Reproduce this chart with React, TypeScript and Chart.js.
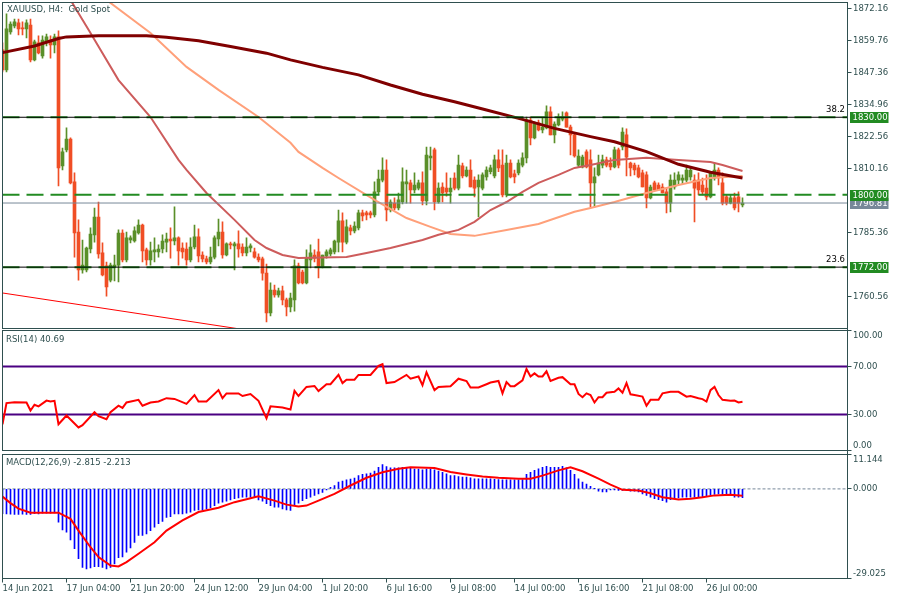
import { useEffect, useRef } from "react";
import { Chart, registerables } from "chart.js";

Chart.register(...registerables);

// ---------------- style constants ----------------
const FONT_FAMILY = '"DejaVu Sans", "Noto Sans", sans-serif';
const FONT_SIZE = 8.5;
const AXIS_COLOR = "#2f4f4f";
const UP_COLOR = "#5a8f29";
const DOWN_COLOR = "#f04e25";
const LEVEL_GREEN = "#228b22";
const PRICE_GRAY = "#778899";
const MA_SLOW_COLOR = "#800000";
const MA_MID_COLOR = "#cd5c5c";
const MA_FAST_COLOR = "#ffa07a";
const TREND_COLOR = "#ff0000";
const RSI_COLOR = "#ff0000";
const RSI_LEVEL_COLOR = "#4b0082";
const MACD_HIST_COLOR = "#0000ff";
const MACD_SIGNAL_COLOR = "#ff0000";

// ---------------- data ----------------
const opens = [
  1856.1, 1848.3, 1863.0, 1865.3, 1866.5, 1864.6, 1864.2, 1865.7, 1852.2, 1858.8,
  1853.7, 1859.2, 1859.9, 1858.0, 1861.1, 1811.2, 1817.4, 1821.6, 1805.0, 1785.6,
  1770.9, 1770.9, 1779.0, 1784.5, 1791.4, 1777.5, 1772.5, 1767.0, 1772.1, 1772.8,
  1785.2, 1774.8, 1782.5, 1782.1, 1785.2, 1788.3, 1778.7, 1774.8, 1777.9, 1777.9,
  1779.0, 1781.7, 1782.9, 1782.1, 1783.3, 1779.4, 1779.0, 1774.8, 1779.8, 1783.7,
  1776.7, 1775.2, 1774.0, 1775.9, 1782.9, 1785.6, 1776.7, 1781.0, 1780.2, 1781.0,
  1779.8, 1777.5, 1779.4, 1777.9, 1775.9, 1775.2, 1769.7, 1754.3, 1763.1, 1761.2,
  1762.8, 1759.3, 1756.6, 1759.3, 1772.5, 1770.1, 1765.9, 1774.8, 1776.7, 1777.9,
  1772.1, 1776.3, 1777.1, 1777.9, 1781.7, 1789.9, 1781.7, 1787.2, 1786.0, 1787.2,
  1793.0, 1793.0, 1793.0, 1792.2, 1801.1, 1805.7, 1809.6, 1794.1, 1796.8, 1794.9,
  1797.2, 1804.2, 1804.6, 1801.9, 1802.6, 1804.6, 1797.6, 1814.3, 1817.4, 1797.2,
  1803.0, 1802.6, 1801.1, 1806.5, 1802.6, 1811.2, 1807.3, 1809.6, 1805.7, 1803.0,
  1802.6, 1806.9, 1808.9, 1807.3, 1813.5, 1811.5, 1799.9, 1812.3, 1808.1, 1808.5,
  1811.5, 1814.3, 1828.9, 1822.0, 1827.8, 1825.1, 1825.9, 1832.1, 1823.2, 1827.0,
  1829.3, 1831.7, 1826.2, 1823.2, 1811.5, 1810.8, 1816.6, 1813.5, 1804.6, 1807.7,
  1811.5, 1813.5, 1812.3, 1810.8, 1817.4, 1818.5, 1823.2, 1812.3, 1811.5, 1810.4,
  1808.5, 1807.7, 1798.8, 1804.6, 1803.8, 1803.0, 1801.1, 1796.8, 1803.0, 1805.7,
  1805.7, 1805.7, 1806.9, 1805.7, 1805.7, 1803.8, 1802.6, 1799.2, 1806.5, 1809.6,
  1804.6, 1799.2, 1796.8, 1798.8, 1799.2, 1796.1,
];

const highs = [
  1858.8, 1870.0, 1866.9, 1868.0, 1868.0, 1866.9, 1867.7, 1868.0, 1859.9, 1861.5,
  1861.5, 1862.2, 1861.5, 1862.2, 1863.4, 1818.1, 1825.9, 1822.0, 1808.5, 1790.3,
  1782.5, 1779.8, 1787.2, 1794.9, 1797.2, 1781.4, 1774.0, 1773.6, 1776.7, 1786.4,
  1786.4, 1785.6, 1784.1, 1787.6, 1790.3, 1788.7, 1779.4, 1781.7, 1783.3, 1780.6,
  1784.5, 1785.2, 1787.2, 1795.3, 1783.7, 1781.4, 1781.4, 1783.3, 1788.3, 1786.8,
  1777.9, 1776.3, 1779.8, 1784.1, 1790.6, 1789.5, 1781.4, 1781.7, 1781.7, 1786.0,
  1781.0, 1783.3, 1781.0, 1779.4, 1777.1, 1775.9, 1773.2, 1765.9, 1765.1, 1763.9,
  1764.7, 1760.0, 1762.0, 1774.8, 1773.6, 1770.9, 1778.7, 1780.6, 1778.7, 1782.9,
  1776.7, 1778.7, 1779.4, 1782.5, 1794.1, 1793.0, 1790.3, 1788.3, 1789.5, 1794.1,
  1794.1, 1793.7, 1793.7, 1805.0, 1809.6, 1814.3, 1813.5, 1798.0, 1798.8, 1800.7,
  1810.4, 1809.6, 1805.7, 1808.5, 1805.7, 1808.9, 1818.5, 1818.5, 1818.1, 1804.6,
  1804.6, 1808.5, 1806.5, 1808.5, 1815.4, 1812.3, 1810.8, 1813.5, 1806.9, 1807.7,
  1808.5, 1810.8, 1811.5, 1815.4, 1817.4, 1817.4, 1815.4, 1813.5, 1809.6, 1813.5,
  1816.2, 1830.1, 1830.1, 1828.2, 1828.9, 1829.7, 1834.4, 1834.0, 1828.2, 1831.3,
  1832.1, 1832.1, 1827.0, 1823.9, 1817.4, 1815.4, 1817.4, 1817.4, 1810.4, 1815.4,
  1815.4, 1814.6, 1814.3, 1818.5, 1818.1, 1825.9, 1825.5, 1812.7, 1812.3, 1811.5,
  1809.6, 1808.9, 1803.8, 1805.3, 1804.6, 1804.2, 1802.6, 1807.7, 1808.5, 1808.9,
  1807.7, 1811.5, 1810.4, 1807.7, 1808.5, 1806.5, 1807.7, 1808.9, 1812.3, 1810.4,
  1808.5, 1799.9, 1799.9, 1800.7, 1801.1, 1798.8,
];

const lows = [
  1847.5, 1847.5, 1862.2, 1864.6, 1861.9, 1861.9, 1860.7, 1851.4, 1851.8, 1854.5,
  1852.9, 1857.6, 1852.9, 1854.9, 1803.4, 1809.6, 1816.6, 1804.2, 1775.9, 1767.0,
  1769.7, 1770.1, 1777.5, 1781.7, 1775.5, 1768.6, 1760.8, 1766.3, 1766.7, 1766.3,
  1774.0, 1774.0, 1781.4, 1781.7, 1784.8, 1774.0, 1772.8, 1772.8, 1774.0, 1775.9,
  1777.5, 1777.9, 1775.5, 1780.6, 1772.8, 1775.5, 1772.8, 1774.0, 1779.0, 1774.0,
  1774.0, 1773.2, 1773.2, 1775.2, 1780.2, 1775.5, 1776.3, 1779.0, 1770.9, 1775.9,
  1776.3, 1776.3, 1777.9, 1775.5, 1774.0, 1767.0, 1750.8, 1753.1, 1760.4, 1760.4,
  1757.4, 1753.1, 1754.7, 1755.0, 1765.5, 1765.5, 1765.5, 1771.7, 1774.0, 1767.8,
  1771.7, 1775.5, 1776.3, 1777.1, 1777.9, 1777.9, 1781.0, 1784.5, 1785.2, 1786.4,
  1789.9, 1790.3, 1791.0, 1791.4, 1800.3, 1805.0, 1789.9, 1793.4, 1794.1, 1794.1,
  1796.5, 1796.8, 1796.8, 1800.7, 1801.9, 1796.1, 1796.1, 1809.6, 1794.1, 1796.8,
  1797.2, 1799.5, 1796.8, 1801.9, 1801.9, 1806.5, 1806.9, 1803.0, 1799.2, 1791.4,
  1801.9, 1805.7, 1808.1, 1806.5, 1808.9, 1799.2, 1799.2, 1806.5, 1804.6, 1807.7,
  1810.8, 1812.3, 1819.3, 1821.6, 1824.7, 1823.9, 1825.5, 1823.2, 1820.1, 1826.6,
  1828.6, 1826.2, 1815.4, 1814.6, 1810.8, 1810.4, 1810.4, 1795.3, 1795.3, 1807.3,
  1810.4, 1810.8, 1809.6, 1810.4, 1810.4, 1817.4, 1807.3, 1807.3, 1807.7, 1806.5,
  1803.0, 1794.9, 1798.4, 1801.9, 1801.9, 1800.7, 1793.0, 1793.4, 1802.2, 1803.8,
  1804.2, 1805.0, 1805.7, 1789.5, 1799.9, 1799.9, 1798.0, 1798.8, 1805.7, 1803.8,
  1796.1, 1796.1, 1796.5, 1794.1, 1793.4, 1795.3,
];

const closes = [
  1848.3, 1864.2, 1866.1, 1866.9, 1864.2, 1864.2, 1866.5, 1852.2, 1859.2, 1854.9,
  1859.9, 1861.1, 1858.0, 1861.1, 1810.4, 1816.6, 1821.6, 1804.6, 1785.2, 1770.9,
  1772.8, 1779.4, 1784.8, 1791.4, 1777.1, 1769.0, 1764.3, 1772.8, 1772.8, 1785.2,
  1774.8, 1783.3, 1783.3, 1786.0, 1788.3, 1778.3, 1774.8, 1778.3, 1778.7, 1779.0,
  1782.1, 1782.9, 1782.1, 1783.3, 1778.3, 1777.9, 1774.8, 1779.8, 1783.7, 1776.3,
  1775.2, 1774.0, 1775.9, 1783.3, 1785.6, 1776.7, 1781.0, 1780.6, 1781.0, 1779.0,
  1777.5, 1779.8, 1780.2, 1775.9, 1774.8, 1769.7, 1754.3, 1763.1, 1761.2, 1762.8,
  1759.3, 1756.6, 1760.0, 1772.5, 1765.9, 1765.9, 1775.5, 1777.5, 1775.5, 1772.1,
  1776.7, 1777.9, 1778.7, 1782.1, 1789.9, 1781.7, 1787.6, 1786.0, 1787.9, 1793.0,
  1791.8, 1792.2, 1792.2, 1801.1, 1806.1, 1809.6, 1794.1, 1797.2, 1794.9, 1798.0,
  1805.0, 1805.0, 1801.9, 1803.8, 1804.6, 1797.6, 1815.4, 1815.0, 1797.2, 1802.6,
  1800.7, 1801.1, 1802.6, 1802.6, 1811.5, 1807.3, 1809.6, 1803.0, 1802.6, 1805.7,
  1807.7, 1809.6, 1810.4, 1813.5, 1810.4, 1799.9, 1812.3, 1806.9, 1806.9, 1812.3,
  1814.3, 1828.9, 1822.0, 1827.4, 1825.1, 1826.2, 1832.1, 1823.2, 1827.4, 1830.1,
  1830.1, 1826.2, 1823.2, 1815.0, 1815.0, 1814.6, 1810.8, 1804.6, 1806.9, 1812.3,
  1813.5, 1811.5, 1810.8, 1817.4, 1811.5, 1824.3, 1814.6, 1810.4, 1809.6, 1806.9,
  1803.0, 1798.8, 1803.0, 1801.9, 1801.9, 1800.7, 1796.8, 1805.7, 1805.7, 1807.7,
  1806.5, 1809.6, 1809.6, 1802.6, 1801.9, 1801.1, 1799.2, 1808.5, 1809.6, 1806.5,
  1796.8, 1796.8, 1798.8, 1794.9, 1796.8, 1796.81,
];

// moving averages read as [bar index, price]
const maSlow: [number, number][] = [
  [0, 1855.0], [8, 1857.6], [14, 1860.5], [16, 1861.1], [24, 1861.5], [36, 1861.5], [41, 1861.0],
  [49, 1859.6], [57, 1857.4], [66, 1854.8], [72, 1852.2], [80, 1849.3], [89, 1846.4], [97, 1842.5],
  [105, 1838.9], [113, 1836.0], [121, 1832.8], [130, 1829.2], [138, 1825.7], [147, 1822.5],
  [153, 1820.5], [161, 1816.7], [169, 1811.8], [177, 1808.7], [185, 1806.5],
];
const maMid: [number, number][] = [
  [14, 1881.5], [17, 1875.4], [22, 1862.6], [29, 1844.4], [37, 1830.1], [44, 1813.5], [46, 1809.6],
  [51, 1800.7], [58, 1790.3], [63, 1782.5], [66, 1779.4], [70, 1776.7], [74, 1775.5], [86, 1775.9],
  [91, 1777.5], [97, 1779.4], [105, 1782.5], [109, 1784.5], [114, 1786.4], [118, 1789.5],
  [122, 1794.1], [126, 1797.2], [130, 1801.1], [134, 1804.6], [139, 1807.7], [143, 1810.4],
  [147, 1811.5], [153, 1813.5], [161, 1814.3], [169, 1813.5], [177, 1812.7], [180, 1811.5], [185, 1809.2],
];
const maFast: [number, number][] = [
  [22, 1880.0], [26, 1875.4], [37, 1862.6], [46, 1849.5], [54, 1840.6], [64, 1830.1], [72, 1820.1],
  [74, 1816.6], [77, 1813.5], [80, 1810.4], [84, 1806.5], [93, 1798.0], [101, 1791.0], [107, 1787.6],
  [112, 1784.8], [118, 1784.1], [126, 1786.4], [134, 1788.7], [143, 1793.4], [147, 1794.9],
  [153, 1797.2], [161, 1800.7], [169, 1803.8], [177, 1806.5], [185, 1807.3],
];
const trendLine: [number, number][] = [[0, 1762.0], [60, 1747.9]];

const supportLevels = [1830, 1800, 1772];
const fibLevels = [1830, 1772];
const fibLabels = ["38.2", "23.6"];
const lastPrice = 1796.81;
const priceTicks = [1760.56, 1785.36, 1810.16, 1822.56, 1834.96, 1847.36, 1859.76, 1872.16];

const rsiPoints: [number, number][] = [
  [0, 21.9], [1, 39.5], [3, 40.3], [6, 40.0], [7, 33.3], [8, 38.1], [9, 36.8], [11, 41.6], [12, 40.8],
  [13, 41.4], [14, 21.9], [16, 29.2], [19, 19.2], [20, 21.1], [23, 31.9], [24, 28.6], [26, 26.0],
  [27, 31.9], [29, 37.3], [30, 35.5], [31, 40.0], [34, 42.2], [35, 37.3], [37, 40.0], [39, 40.8],
  [41, 43.6], [43, 43.0], [46, 38.9], [48, 46.2], [49, 40.8], [51, 40.8], [54, 50.3], [55, 43.6],
  [56, 47.6], [59, 47.6], [60, 45.4], [62, 47.1], [64, 41.4], [66, 26.8], [67, 36.8], [70, 35.9],
  [72, 34.1], [73, 49.7], [74, 45.4], [76, 53.0], [78, 53.8], [79, 49.5], [81, 55.2], [82, 55.2],
  [84, 63.0], [85, 56.2], [86, 59.0], [88, 59.0], [89, 63.0], [92, 63.0], [94, 70.6], [95, 72.0],
  [96, 56.2], [98, 57.0], [101, 63.0], [102, 59.8], [104, 61.7], [105, 54.4], [106, 65.2], [108, 50.3],
  [109, 53.0], [112, 53.6], [114, 59.8], [116, 57.9], [117, 52.5], [119, 52.5], [121, 55.2], [122, 56.6],
  [124, 57.9], [125, 47.6], [126, 57.0], [127, 53.6], [128, 53.6], [130, 58.4], [131, 67.9], [132, 61.7],
  [133, 64.3], [134, 61.7], [135, 61.7], [136, 66.0], [137, 57.9], [139, 60.6], [140, 61.1], [142, 55.2],
  [143, 55.2], [144, 47.1], [145, 44.4], [146, 47.6], [147, 46.2], [148, 40.0], [149, 44.4], [150, 44.4],
  [151, 48.1], [153, 48.9], [154, 51.7], [155, 48.1], [156, 56.2], [157, 46.8], [158, 46.2], [160, 44.9],
  [161, 37.3], [162, 42.2], [164, 42.2], [165, 47.6], [167, 48.9], [169, 48.9], [171, 44.9], [172, 45.4],
  [174, 43.6], [175, 42.8], [176, 40.8], [177, 50.3], [178, 53.0], [179, 46.2], [180, 42.2], [182, 41.4],
  [183, 41.6], [184, 40.0], [185, 40.69],
];
const rsiLevels = [70, 30];
const rsiTicks = [0, 30, 70, 100];

const macdHist = [
  -8.0, -8.1, -8.2, -8.3, -8.3, -8.2, -8.3, -8.3, -8.0, -8.1,
  -7.9, -7.9, -7.9, -7.8, -10.8, -13.3, -14.0, -16.5, -19.4, -22.6,
  -25.4, -25.9, -25.6, -25.2, -25.2, -25.4, -25.9, -25.4, -24.3, -22.3,
  -22.0, -20.5, -19.1, -17.3, -15.1, -15.1, -14.6, -13.5, -12.4, -11.3,
  -10.5, -9.2, -9.0, -8.1, -8.1, -8.1, -7.9, -7.5, -7.0, -6.8,
  -6.8, -6.5, -6.1, -5.4, -4.6, -4.3, -4.0, -3.6, -3.2, -2.9,
  -2.7, -2.7, -2.7, -2.7, -3.6, -4.0, -4.8, -5.4, -5.9, -5.9,
  -6.5, -6.8, -7.0, -5.4, -4.6, -3.8, -3.2, -2.7, -2.1, -1.6,
  -1.1, -0.3, 0.5, 1.1, 2.2, 2.5, 2.9, 3.2, 3.5, 4.3,
  4.7, 4.9, 5.1, 5.8, 7.0, 7.9, 7.2, 6.8, 6.8, 6.8,
  7.0, 6.8, 6.8, 6.4, 6.4, 6.2, 6.4, 6.4, 6.2, 5.8,
  5.4, 4.9, 4.3, 4.3, 4.0, 3.8, 3.8, 3.6, 3.3, 3.3,
  3.3, 3.3, 3.3, 3.1, 3.0, 2.9, 2.9, 2.9, 2.9, 2.9,
  3.0, 4.7, 5.4, 6.0, 6.5, 7.0, 7.3, 7.0, 7.0, 7.0,
  7.3, 6.8, 6.0, 4.7, 3.3, 2.2, 1.6, 0.8, 0.1, -0.7,
  -1.0, -1.0, -0.3, -0.3, -0.5, -0.5, -0.5, -0.7, -0.7, -1.0,
  -1.6, -2.1, -2.7, -3.2, -3.5, -3.8, -4.3, -3.5, -3.2, -2.9,
  -2.7, -2.7, -2.7, -2.7, -2.7, -2.7, -2.5, -2.1, -1.8, -1.6,
  -1.8, -2.1, -1.8, -2.7, -2.7, -2.815,
];
const macdSignal: [number, number][] = [
  [0, -2.5], [2, -4.6], [4, -6.4], [7, -7.7], [14, -7.7], [17, -9.7], [19, -13.5], [22, -18.9],
  [24, -22.1], [27, -24.8], [29, -25.1], [31, -23.7], [34, -21.0], [38, -17.3], [41, -13.5],
  [45, -10.2], [49, -7.5], [54, -6.1], [58, -4.3], [63, -2.7], [64, -2.4], [68, -3.8], [71, -5.1],
  [74, -5.7], [76, -5.4], [79, -3.8], [83, -1.6], [87, 1.1], [91, 3.6], [95, 5.4], [99, 6.5],
  [102, 7.0], [108, 6.8], [112, 5.5], [116, 4.7], [120, 4.0], [124, 3.6], [129, 3.3], [132, 3.3],
  [135, 4.3], [139, 6.0], [142, 7.0], [145, 5.7], [149, 3.3], [152, 1.4], [155, -0.3], [159, -0.5],
  [162, -1.4], [165, -2.7], [169, -3.4], [172, -3.2], [175, -2.7], [178, -2.1], [182, -1.9], [185, -2.213],
];
const macdTicks = [-29.025, 0, 11.144];

const dateTickIdx = [0, 16, 32, 48, 64, 80, 96, 112, 128, 144, 160, 176];
const dateLabels = [
  "14 Jun 2021", "17 Jun 04:00", "21 Jun 20:00", "24 Jun 12:00", "29 Jun 04:00", "1 Jul 20:00",
  "6 Jul 16:00", "9 Jul 08:00", "14 Jul 00:00", "16 Jul 16:00", "21 Jul 08:00", "26 Jul 00:00",
];

// ---------------- geometry ----------------
const W = 900;
const H = 600;
const PLOT_LEFT = 2.5;
const PLOT_RIGHT = 847.5;
const AXIS_W = W - PLOT_RIGHT;
const X_MIN = 0;
const X_MAX = 211.25;
const MAIN = { top: 2.5, bottom: 328.5, min: 1748.25, max: 1874.41 };
const RSI = { top: 330.5, bottom: 450.5, min: 0, max: 100 };
const MACD = { top: 454.5, bottom: 578.5, min: -29.025, max: 11.144 };

const font = { family: FONT_FAMILY, size: FONT_SIZE };

const pts = (arr: [number, number][]) => arr.map(([x, y]) => ({ x, y }));
const hline = (v: number) => [{ x: X_MIN, y: v }, { x: X_MAX, y: v }];

const lineDs = (data: any[], color: string, width: number, order: number, extra: any = {}) => ({
  type: "line",
  data,
  borderColor: color,
  backgroundColor: color,
  borderWidth: width,
  pointRadius: 0,
  pointHoverRadius: 0,
  tension: 0,
  fill: false,
  clip: 0,
  order,
  ...extra,
});

const framePlugin = {
  id: "panelFrame",
  afterDatasetsDraw(chart: any) {
    const { ctx, chartArea: a } = chart;
    ctx.save();
    ctx.strokeStyle = AXIS_COLOR;
    ctx.lineWidth = 1;
    ctx.strokeRect(a.left, a.top, a.right - a.left, a.bottom - a.top);
    ctx.restore();
  },
};

const priceTagPlugin = {
  id: "priceTags",
  afterDraw(chart: any) {
    const { ctx, chartArea: a, scales } = chart;
    const y = scales.y;
    ctx.save();
    ctx.font = `${FONT_SIZE}px ${FONT_FAMILY}`;
    ctx.textBaseline = "middle";
    ctx.fillStyle = "#000000";
    ctx.textAlign = "right";
    fibLevels.forEach((v, k) => {
      ctx.fillText(fibLabels[k], a.right - 2.5, y.getPixelForValue(v) - 7);
    });
    const tags = [
      { v: lastPrice, c: PRICE_GRAY },
      ...supportLevels.map((v) => ({ v, c: LEVEL_GREEN })),
    ];
    ctx.textAlign = "left";
    for (const t of tags) {
      const py = y.getPixelForValue(t.v);
      ctx.fillStyle = t.c;
      ctx.fillRect(a.right + 2.5, Math.round(py) - 5, 38.5, 11);
      ctx.fillStyle = "#ffffff";
      ctx.fillText(t.v.toFixed(2), a.right + 5, Math.round(py) + 0.5);
    }
    ctx.restore();
  },
};

const axisLinePlugin = {
  id: "axisLine",
  afterDraw(chart: any) {
    const { ctx, chartArea: a } = chart;
    ctx.save();
    ctx.strokeStyle = AXIS_COLOR;
    ctx.lineWidth = 1;
    ctx.beginPath();
    ctx.moveTo(a.right, 2.5);
    ctx.lineTo(a.right, a.bottom);
    ctx.stroke();
    ctx.restore();
  },
};

function yAxis(range: { min: number; max: number }, values: number[], digits: number, shiftEdges: boolean) {
  const sorted = values.slice().sort((p, q) => p - q);
  return {
    position: "right",
    min: range.min,
    max: range.max,
    bounds: "data",
    afterBuildTicks: (s: any) => {
      s.ticks = sorted.map((v) => ({ value: v }));
    },
    afterFit: (s: any) => {
      s.width = AXIS_W;
      s.paddingTop = 0;
      s.paddingBottom = 0;
    },
    grid: { drawOnChartArea: false, drawTicks: true, tickLength: 4, color: AXIS_COLOR },
    border: { display: true, color: AXIS_COLOR },
    ticks: {
      color: AXIS_COLOR,
      font,
      padding: 1.5,
      autoSkip: false,
      callback: (v: any, i: number, ticks: any[]) => {
        const s = Number(v).toFixed(digits);
        if (!shiftEdges) return s;
        if (i === ticks.length - 1) return ["", s];
        if (i === 0) return [s, ""];
        return s;
      },
    },
  };
}

const hiddenX = { type: "linear", min: X_MIN, max: X_MAX, display: false, offset: false };

const baseOptions = (padding: any) => ({
  responsive: false,
  animation: false,
  events: [],
  layout: { padding },
  plugins: { legend: { display: false }, tooltip: { enabled: false }, title: { display: false } },
});

function mainConfig(): any {
  const colors = closes.map((c, i) => (c >= opens[i] ? UP_COLOR : DOWN_COLOR));
  const wicks = highs.map((h, i) => ({ x: i, y: [lows[i], h] }));
  const bodies = opens.map((o, i) => ({ x: i, y: [o, closes[i]] }));
  return {
    type: "bar",
    data: {
      datasets: [
        ...fibLevels.map((v) => lineDs(hline(v), "#000000", 1, 0)),
        ...supportLevels.map((v) => lineDs(hline(v), LEVEL_GREEN, 2, 1, { borderDash: [17, 7] })),
        lineDs(hline(lastPrice), PRICE_GRAY, 1, 2),
        lineDs(pts(maSlow), MA_SLOW_COLOR, 3, 3),
        lineDs(pts(maMid), MA_MID_COLOR, 2, 4),
        lineDs(pts(maFast), MA_FAST_COLOR, 2, 5),
        lineDs(pts(trendLine), TREND_COLOR, 1, 6),
        {
          type: "bar",
          data: bodies,
          backgroundColor: colors,
          borderWidth: 0,
          barThickness: 3,
          minBarLength: 1,
          grouped: false,
          clip: 0,
          order: 7,
        },
        {
          type: "bar",
          data: wicks,
          backgroundColor: colors,
          borderWidth: 0,
          barThickness: 1,
          grouped: false,
          clip: 0,
          order: 8,
        },
      ],
    },
    options: {
      ...baseOptions({ left: PLOT_LEFT, top: MAIN.top, right: 0, bottom: H - MAIN.bottom }),
      scales: {
        x: hiddenX,
        y: yAxis(MAIN, priceTicks, 2, false),
      },
    },
    plugins: [framePlugin, priceTagPlugin],
  };
}

function rsiConfig(): any {
  return {
    type: "line",
    data: {
      datasets: [
        lineDs(pts(rsiPoints), RSI_COLOR, 2, 0),
        ...rsiLevels.map((v) => lineDs(hline(v), RSI_LEVEL_COLOR, 2, 1)),
      ],
    },
    options: {
      ...baseOptions({ left: PLOT_LEFT, top: RSI.top, right: 0, bottom: H - RSI.bottom }),
      scales: {
        x: hiddenX,
        y: yAxis(RSI, rsiTicks, 2, true),
      },
    },
    plugins: [framePlugin],
  };
}

function macdConfig(): any {
  return {
    type: "bar",
    data: {
      datasets: [
        lineDs(pts(macdSignal), MACD_SIGNAL_COLOR, 2, 0),
        {
          type: "bar",
          data: macdHist.map((v, i) => ({ x: i, y: v })),
          backgroundColor: MACD_HIST_COLOR,
          borderWidth: 0,
          barThickness: 1,
          grouped: false,
          clip: 0,
          order: 1,
        },
        lineDs(hline(0), PRICE_GRAY, 1, 2, { borderDash: [3, 2] }),
      ],
    },
    options: {
      ...baseOptions({ left: PLOT_LEFT, top: MACD.top, right: 0, bottom: 0 }),
      scales: {
        x: {
          type: "linear",
          position: "bottom",
          min: X_MIN,
          max: X_MAX,
          offset: false,
          afterBuildTicks: (s: any) => {
            s.ticks = dateTickIdx.map((v) => ({ value: v }));
          },
          afterFit: (s: any) => {
            s.height = H - MACD.bottom;
            s.paddingLeft = 0;
            s.paddingRight = 0;
          },
          grid: { drawOnChartArea: false, drawTicks: true, tickLength: 4, color: AXIS_COLOR, offset: false },
          border: { display: true, color: AXIS_COLOR },
          ticks: {
            align: "start",
            padding: 1,
            autoSkip: false,
            maxRotation: 0,
            minRotation: 0,
            color: AXIS_COLOR,
            font,
            callback: (v: any) => {
              const k = dateTickIdx.indexOf(Number(v));
              return k >= 0 ? dateLabels[k] : "";
            },
          },
        },
        y: yAxis(MACD, macdTicks, 3, true),
      },
    },
    plugins: [framePlugin, axisLinePlugin],
  };
}

const canvasStyle: any = { position: "absolute", left: 0, top: 0, width: W, height: H };
const labelStyle: any = {
  position: "absolute",
  fontFamily: FONT_FAMILY,
  fontSize: FONT_SIZE,
  lineHeight: "10px",
  color: AXIS_COLOR,
  whiteSpace: "pre",
};

export default function App() {
  const mainRef = useRef<HTMLCanvasElement | null>(null);
  const rsiRef = useRef<HTMLCanvasElement | null>(null);
  const macdRef = useRef<HTMLCanvasElement | null>(null);

  useEffect(() => {
    const charts: Chart[] = [];
    if (mainRef.current) charts.push(new Chart(mainRef.current, mainConfig()));
    if (rsiRef.current) charts.push(new Chart(rsiRef.current, rsiConfig()));
    if (macdRef.current) charts.push(new Chart(macdRef.current, macdConfig()));
    return () => charts.forEach((c) => c.destroy());
  }, []);

  return (
    <div style={{ position: "absolute", left: 0, top: 0, width: W, height: H, background: "#ffffff", overflow: "hidden" }}>
      <canvas ref={mainRef} width={W} height={H} style={canvasStyle} />
      <canvas ref={rsiRef} width={W} height={H} style={canvasStyle} />
      <canvas ref={macdRef} width={W} height={H} style={canvasStyle} />
      <div style={{ ...labelStyle, left: 7, top: 4 }}>{"XAUUSD, H4:  Gold Spot"}</div>
      <div style={{ ...labelStyle, left: 6, top: 334 }}>{"RSI(14) 40.69"}</div>
      <div style={{ ...labelStyle, left: 6, top: 457 }}>{"MACD(12,26,9) -2.815 -2.213"}</div>
    </div>
  );
}
